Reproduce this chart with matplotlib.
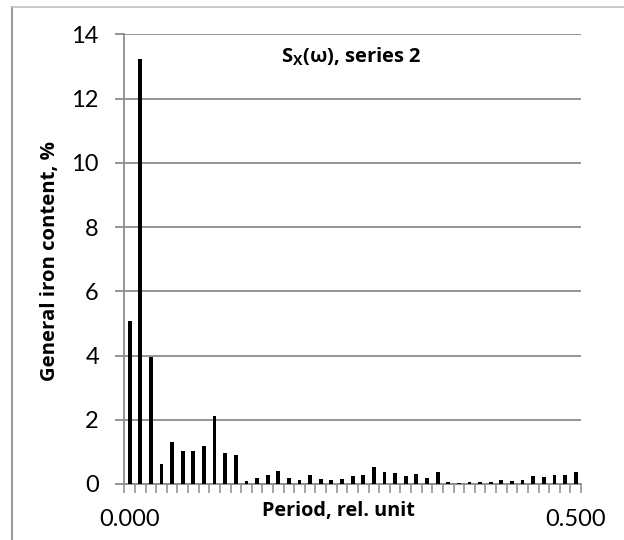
import matplotlib
matplotlib.use('Agg')
import matplotlib.pyplot as plt
from matplotlib.lines import Line2D

plt.rcParams['font.family'] = ['Lato', 'DejaVu Sans']
plt.rcParams['mathtext.fontset'] = 'custom'
plt.rcParams['mathtext.rm'] = 'Open Sans'
plt.rcParams['mathtext.bf'] = 'Open Sans:bold'

# spectrum values, 43 categories from 0.000 to 0.500
values = [5.06, 13.24, 3.95, 0.62, 1.32, 1.02, 1.02, 1.17, 2.13, 0.95, 0.89,
          0.08, 0.19, 0.29, 0.40, 0.18, 0.12, 0.29, 0.16, 0.13, 0.16, 0.25,
          0.29, 0.53, 0.36, 0.35, 0.25, 0.32, 0.20, 0.38, 0.06, 0.02, 0.06,
          0.06, 0.05, 0.14, 0.10, 0.13, 0.24, 0.22, 0.27, 0.27, 0.38]
x_labels = ['0.000', '0.500']
y_ticks = [0, 2, 4, 6, 8, 10, 12, 14]

W, H = 624, 540
fig = plt.figure(figsize=(W / 100, H / 100), dpi=100)
ax = fig.add_axes([124.3 / W, 1 - 484 / H, (581 - 124.3) / W, (484 - 34.3) / H])

n = len(values)
xs = list(range(n))
ax.bar(xs, values, width=0.36, color='black', zorder=3)

ax.set_xlim(-0.5, n - 0.5)
ax.set_ylim(0, 14)
ax.set_yticks(y_ticks)
ax.set_xticks([0, n - 1])
ax.set_xticklabels(x_labels)
ax.set_xticks([i - 0.5 for i in range(n + 1)], minor=True)

grey = '#8c8c8c'
ax.yaxis.grid(True, color=grey, linewidth=1.3, zorder=0)
for s in ['top', 'right']:
    ax.spines[s].set_visible(False)
for s in ['left', 'bottom']:
    ax.spines[s].set_color(grey)
    ax.spines[s].set_linewidth(1.3)

ax.tick_params(axis='y', length=6.3, width=1.3, color=grey, pad=12,
               labelsize=17)
ax.tick_params(axis='x', which='major', length=0, pad=18, labelsize=17)
ax.tick_params(axis='x', which='minor', length=6.5, width=1.1, color=grey)

bold = dict(family=['Open Sans', 'DejaVu Sans'], fontweight='bold')
ax.set_ylabel('General iron content, %', fontsize=14.7, **bold)
ax.yaxis.set_label_coords((60 - 124.3) / (581 - 124.3), 0.495)
ax.set_xlabel('Period, rel. unit', fontsize=14.3, **bold)
ax.xaxis.set_label_coords((338 - 124.3) / (581 - 124.3), -0.037)

ax.text(0.497, 0.937, r'S$_\mathbf{X}$(ω), series 2', transform=ax.transAxes,
        ha='center', va='baseline', fontsize=14.5, **bold)

# chart frame (only left and top edges fall inside the image)
fig.add_artist(Line2D([11.5 / W, 11.5 / W], [0, 1 - 6.5 / H],
                      transform=fig.transFigure, color='#9a9a9a', lw=1.5))
fig.add_artist(Line2D([11.5 / W, 1], [1 - 6.5 / H, 1 - 6.5 / H],
                      transform=fig.transFigure, color='#c0c0c0', lw=1.2))

fig.savefig('out.png', dpi=100)
